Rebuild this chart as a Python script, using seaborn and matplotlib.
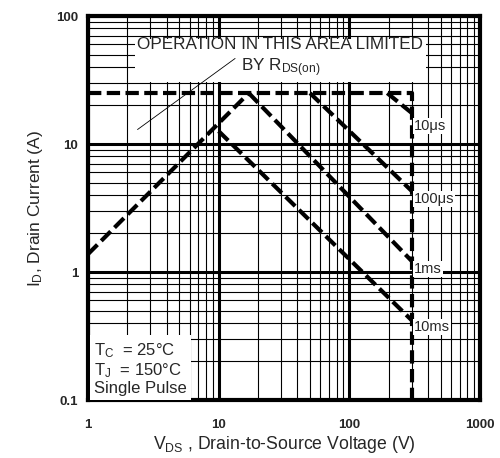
import numpy as np
import pandas as pd
import matplotlib
matplotlib.use("Agg")
import matplotlib.pyplot as plt
from matplotlib.ticker import LogLocator, NullFormatter, FixedLocator
import seaborn as sns

# SOA curves (V in volts, I in amps)
limit_v = [1, 300, 300]
limit_i = [25, 25, 0.1]
rds_v = [1, 17]
rds_i = [1.38, 25]
us10_v = [195, 300]
us10_i = [25, 17.5]
us100_v = [50, 300]
us100_i = [25, 4.3]
ms1_v = [17, 300]
ms1_i = [25, 1.22]
ms10_v = [10, 300]
ms10_i = [12.6, 0.42]

curve_labels = ["10\u03bcs", "100\u03bcs", "1ms", "10ms"]
curve_label_i = [13.8, 3.72, 1.05, 0.37]
label_v = 300

x_ticks = [1, 10, 100, 1000]
x_tick_labels = ["1", "10", "100", "1000"]
y_ticks = [0.1, 1, 10, 100]
y_tick_labels = ["0.1", "1", "10", "100"]

sns.set_style("white")
plt.rcParams["font.family"] = ["Liberation Sans", "DejaVu Sans"]
plt.rcParams["mathtext.fontset"] = "custom"
plt.rcParams["mathtext.rm"] = "Liberation Sans"
plt.rcParams["mathtext.it"] = "Liberation Sans"

fig = plt.figure(figsize=(5.0, 4.58), dpi=100)
ax = fig.add_axes([0.176, 0.1266, 0.784, 0.8384])

ax.set_xscale("log")
ax.set_yscale("log")
ax.set_xlim(1, 1000)
ax.set_ylim(0.1, 100)

# grid: thick decades, thin minors
ax.xaxis.set_major_locator(FixedLocator(x_ticks))
ax.yaxis.set_major_locator(FixedLocator(y_ticks))
ax.xaxis.set_minor_locator(LogLocator(base=10, subs=np.arange(2, 10)))
ax.yaxis.set_minor_locator(LogLocator(base=10, subs=np.arange(2, 10)))
ax.xaxis.set_minor_formatter(NullFormatter())
ax.yaxis.set_minor_formatter(NullFormatter())
ax.grid(which="major", color="black", lw=2.2)
ax.grid(which="minor", color="black", lw=0.8)
ax.set_axisbelow(True)
ax.tick_params(which="both", length=0)
ax.tick_params(axis="x", pad=14, labelsize=9.5)
ax.tick_params(axis="y", pad=7, labelsize=9.5)
ax.set_xticklabels(x_tick_labels, fontweight="bold")
ax.set_yticklabels(y_tick_labels, fontweight="bold")

for s in ax.spines.values():
    s.set_linewidth(3)
    s.set_color("black")

dash = (0, (3.2, 1.3))
for vs, cs in [(limit_v, limit_i), (rds_v, rds_i), (us10_v, us10_i),
               (us100_v, us100_i), (ms1_v, ms1_i), (ms10_v, ms10_i)]:
    sns.lineplot(x=vs, y=cs, ax=ax, sort=False, estimator=None,
                 color="black", lw=3, linestyle=dash, zorder=3)

for lab, yi in zip(curve_labels, curve_label_i):
    ax.text(label_v * 1.04, yi, lab, fontsize=10.5, ha="left", va="center",
            zorder=4, bbox=dict(facecolor="white", edgecolor="none", pad=0.6))

ax.text(29.6, 47, "OPERATION IN THIS AREA LIMITED\nBY R$_{\\mathrm{DS(on)}}$",
        fontsize=12.3, ha="center", va="center", multialignment="center",
        linespacing=1.35, zorder=4,
        bbox=dict(facecolor="white", edgecolor="none", pad=2))
ax.annotate("", xy=(2.3, 12.6), xytext=(13.9, 48),
            arrowprops=dict(arrowstyle="-", lw=0.6, color="black"), zorder=5)

ax.text(1.12, 0.107, "T$_{\\mathrm{C}}$  = 25\u00b0C\nT$_{\\mathrm{J}}$  = 150\u00b0C\nSingle Pulse",
        fontsize=12, ha="left", va="bottom", linespacing=1.1, zorder=4,
        bbox=dict(facecolor="white", edgecolor="none", pad=3))

ax.set_xlabel("V$_{\\mathrm{DS}}$ , Drain-to-Source Voltage (V)", fontsize=12.7, labelpad=2)
ax.set_ylabel("I$_{\\mathrm{D}}$, Drain Current (A)", fontsize=12.5, labelpad=8)

fig.savefig("out.png", dpi=100)
